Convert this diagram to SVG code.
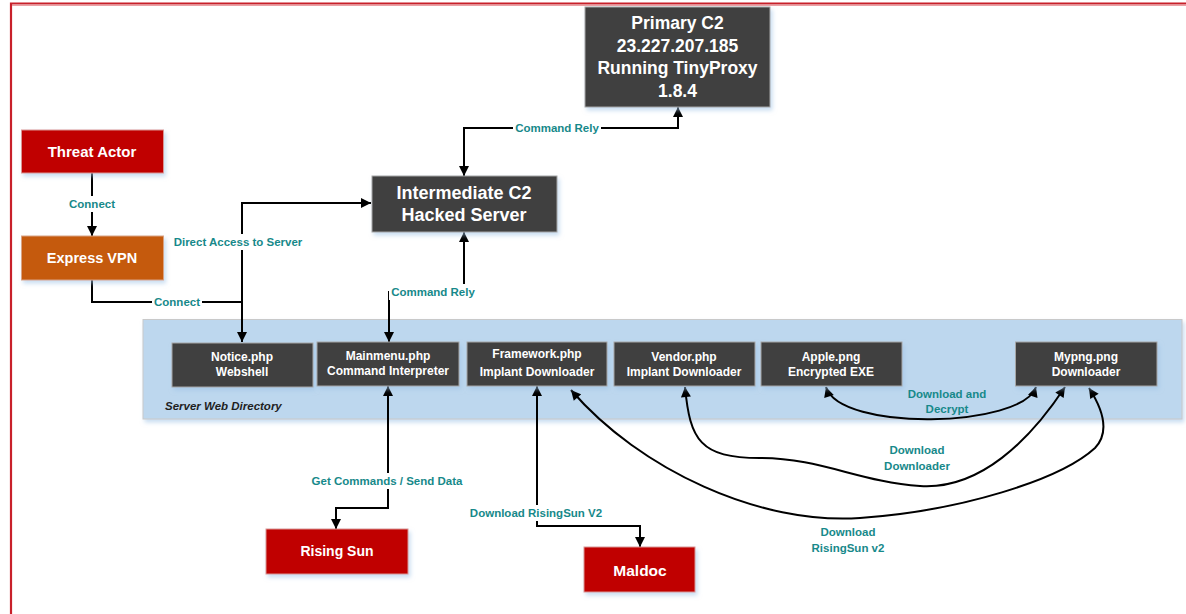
<svg xmlns="http://www.w3.org/2000/svg" width="1186" height="614" viewBox="0 0 1186 614">
<defs>
<marker id="arr" viewBox="0 0 10 10" refX="10" refY="5" markerWidth="12" markerHeight="10" markerUnits="userSpaceOnUse" orient="auto-start-reverse">
<path d="M0,0 L10,5 L0,10 Z" fill="#000"/>
</marker>
<filter id="sh" x="-10%" y="-10%" width="130%" height="140%">
<feDropShadow dx="2" dy="3" stdDeviation="2" flood-color="#9dc3e6" flood-opacity="0.55"/>
</filter>
<style>
.dark{fill:#404040;stroke:#a6a6a6;stroke-width:1}
.red{fill:#c00000;stroke:#d99694;stroke-width:1}
.orange{fill:#c55a11;stroke:#d9a383;stroke-width:1}
.nt{font-family:"Liberation Sans",Arial,sans-serif;font-weight:bold;fill:#fff;text-anchor:middle;dominant-baseline:central}
.lbl{font-family:"Liberation Sans",Arial,sans-serif;font-weight:bold;font-size:11.5px;fill:#17898a;text-anchor:middle;dominant-baseline:central}
.ln{fill:none;stroke:#000;stroke-width:2}
.bg{fill:#fff}
</style>
</defs>
<rect width="1186" height="614" fill="#fff"/>
<!-- frame -->
<path d="M11,614 V3.5 H1186" fill="none" stroke="#c8202a" stroke-width="2.2"/>
<path d="M12,5.5 H1186" fill="none" stroke="#eba0a4" stroke-width="1"/>

<!-- panel -->
<g id="server-web-directory">
<rect x="143" y="319.5" width="1039" height="99.5" fill="#bdd7ee" stroke="#c9c9c9" stroke-width="1" filter="url(#sh)"/>
<text x="165" y="406" font-family="'Liberation Sans',Arial,sans-serif" font-weight="bold" font-style="italic" font-size="11.5" fill="#1f1f1f" dominant-baseline="central">Server Web Directory</text>
</g>

<g id="connectors">
<path class="ln" d="M92,173 V236" marker-end="url(#arr)"/>
<path class="ln" d="M92,280 V302 H242"/>
<path class="ln" d="M242,302 V203 H371" marker-end="url(#arr)"/>
<path class="ln" d="M242,302 V342" marker-end="url(#arr)"/>
<path class="ln" d="M464,176 V128 H678 V107" marker-start="url(#arr)" marker-end="url(#arr)"/>
<path class="ln" d="M464,232 V292 H389 V342" marker-start="url(#arr)" marker-end="url(#arr)"/>
<path class="ln" d="M388,386 V508 H336 V529" marker-start="url(#arr)" marker-end="url(#arr)"/>
<path class="ln" d="M537,386 V526 H640 V547" marker-start="url(#arr)" marker-end="url(#arr)"/>
<path class="ln" d="M826,387 C840,432 1022,428 1036,387" marker-start="url(#arr)" marker-end="url(#arr)"/>
<path class="ln" d="M685,387 C690,440 700,458 760,458 C820,458 860,482 920,486 C980,490 1030,440 1065,387" marker-start="url(#arr)" marker-end="url(#arr)"/>
<path class="ln" d="M571,390 C640,470 760,525 860,518 C960,511 1060,480 1095,448 C1112,430 1100,405 1089,388" marker-start="url(#arr)" marker-end="url(#arr)"/>

<rect class="bg" x="66" y="196" width="52" height="16"/>
<text class="lbl" x="92" y="204">Connect</text>
<rect class="bg" x="152" y="294" width="50" height="16"/>
<text class="lbl" x="177" y="302">Connect</text>
<rect class="bg" x="172" y="234" width="132" height="16"/>
<text class="lbl" x="238" y="242">Direct Access to Server</text>
<rect class="bg" x="513" y="120" width="88" height="16"/>
<text class="lbl" x="557" y="128">Command Rely</text>
<rect class="bg" x="389" y="284" width="88" height="16"/>
<text class="lbl" x="433" y="292">Command Rely</text>
<rect class="bg" x="307" y="473" width="162" height="16"/>
<text class="lbl" x="387" y="481">Get Commands / Send Data</text>
<rect class="bg" x="467" y="505" width="139" height="16"/>
<text class="lbl" x="536" y="513">Download RisingSun V2</text>
<text class="lbl" x="947" y="394">Download and</text>
<text class="lbl" x="947" y="409">Decrypt</text>
<text class="lbl" x="917" y="450">Download</text>
<text class="lbl" x="917" y="466">Downloader</text>
<text class="lbl" x="848" y="532">Download</text>
<text class="lbl" x="848" y="548">RisingSun v2</text>
</g>

<g id="primary-c2">
<rect class="dark" x="585" y="7" width="185" height="100" filter="url(#sh)"/>
<text class="nt" x="677.5" y="23" font-size="17.5">Primary C2</text>
<text class="nt" x="677.5" y="46" font-size="17.5">23.227.207.185</text>
<text class="nt" x="677.5" y="68" font-size="17.5">Running TinyProxy</text>
<text class="nt" x="677.5" y="91" font-size="17.5">1.8.4</text>
</g>

<g id="intermediate-c2">
<rect class="dark" x="372" y="176" width="185" height="56" filter="url(#sh)"/>
<text class="nt" x="464" y="193" font-size="18">Intermediate C2</text>
<text class="nt" x="464" y="215" font-size="18">Hacked Server</text>
</g>

<g id="threat-actor">
<rect class="red" x="21.5" y="130" width="142" height="43" filter="url(#sh)"/>
<text class="nt" x="92" y="151" font-size="15">Threat Actor</text>
</g>

<g id="express-vpn">
<rect class="orange" x="21.5" y="236" width="142" height="44" filter="url(#sh)"/>
<text class="nt" x="92" y="258" font-size="14.5">Express VPN</text>
</g>

<g id="notice-php">
<rect class="dark" x="172" y="343" width="141" height="44" filter="url(#sh)"/>
<text class="nt" x="242" y="357" font-size="12">Notice.php</text>
<text class="nt" x="242" y="372" font-size="12">Webshell</text>
</g>

<g id="mainmenu-php">
<rect class="dark" x="317" y="342" width="142" height="44" filter="url(#sh)"/>
<text class="nt" x="388" y="356" font-size="12">Mainmenu.php</text>
<text class="nt" x="388" y="371" font-size="12">Command Interpreter</text>
</g>

<g id="framework-php">
<rect class="dark" x="467" y="342" width="140" height="44" filter="url(#sh)"/>
<text class="nt" x="537" y="354" font-size="12">Framework.php</text>
<text class="nt" x="537" y="372" font-size="12">Implant Downloader</text>
</g>

<g id="vendor-php">
<rect class="dark" x="614" y="342" width="141" height="44" filter="url(#sh)"/>
<text class="nt" x="684" y="357" font-size="12">Vendor.php</text>
<text class="nt" x="684" y="372" font-size="12">Implant Downloader</text>
</g>

<g id="apple-png">
<rect class="dark" x="761" y="342" width="141" height="44" filter="url(#sh)"/>
<text class="nt" x="831" y="357" font-size="12">Apple.png</text>
<text class="nt" x="831" y="372" font-size="12">Encrypted EXE</text>
</g>

<g id="mypng-png">
<rect class="dark" x="1015.5" y="342" width="141.5" height="44" filter="url(#sh)"/>
<text class="nt" x="1086" y="357" font-size="12">Mypng.png</text>
<text class="nt" x="1086" y="372" font-size="12">Downloader</text>
</g>

<g id="rising-sun">
<rect class="red" x="266" y="529" width="142" height="45" filter="url(#sh)"/>
<text class="nt" x="337" y="551" font-size="14">Rising Sun</text>
</g>

<g id="maldoc">
<rect class="red" x="584" y="547" width="111" height="45" filter="url(#sh)"/>
<text class="nt" x="640" y="570" font-size="15.5">Maldoc</text>
</g>
</svg>
